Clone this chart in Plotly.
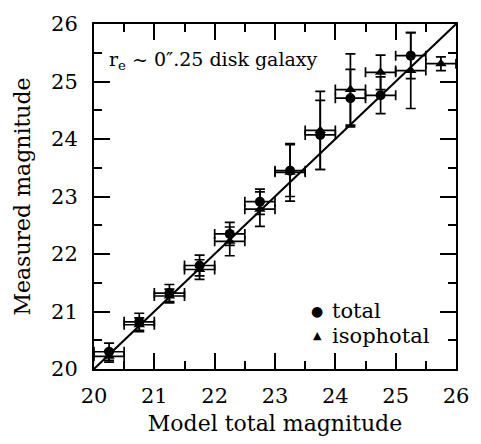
import plotly.graph_objects as go

# Data
model_total = [20.25, 20.75, 21.25, 21.75, 22.25, 22.75, 23.25, 23.75, 24.25, 24.75, 25.25]
meas_total = [20.30, 20.82, 21.32, 21.80, 22.35, 22.91, 23.45, 24.07, 24.71, 24.76, 25.45]
err_total = [0.15, 0.15, 0.15, 0.18, 0.20, 0.22, 0.45, 0.60, 0.50, 0.32, 0.40]

model_iso = [20.25, 20.75, 21.25, 21.75, 22.25, 22.75, 23.25, 23.75, 24.25, 24.75, 25.25, 25.75]
meas_iso = [20.22, 20.77, 21.27, 21.73, 22.22, 22.78, 23.42, 24.15, 24.86, 25.16, 25.19, 25.31]
err_iso = [0.10, 0.12, 0.12, 0.17, 0.25, 0.30, 0.50, 0.68, 0.62, 0.30, 0.66, 0.12]

bin_half_width = 0.25
axis_range = [20, 26]
tick_vals = [20, 21, 22, 23, 24, 25, 26]
tick_text = ["20", "21", "22", "23", "24", "25", "26"]
legend_labels = ["total", "isophotal"]

FONT = "DejaVu Serif"
BLACK = "#000000"

fig = go.Figure()

# one-to-one line
fig.add_trace(go.Scatter(x=axis_range, y=axis_range, mode="lines",
                         line=dict(color=BLACK, width=2), showlegend=False, hoverinfo="skip"))

err_style = dict(type="data", color=BLACK, thickness=1.7, width=5)

fig.add_trace(go.Scatter(
    x=model_total, y=meas_total, mode="markers", name=legend_labels[0], showlegend=False,
    marker=dict(symbol="circle", size=10, color=BLACK),
    error_y=dict(array=err_total, **err_style),
    error_x=dict(array=[bin_half_width] * len(model_total), **err_style),
))
fig.add_trace(go.Scatter(
    x=model_iso, y=meas_iso, mode="markers", name=legend_labels[1], showlegend=False,
    marker=dict(symbol="triangle-up", size=10, color=BLACK),
    error_y=dict(array=err_iso, **err_style),
    error_x=dict(array=[bin_half_width] * len(model_iso), **err_style),
))

# empty trace to activate the mirrored (top/right) axes carrying minor ticks
fig.add_trace(go.Scatter(x=[], y=[], xaxis="x2", yaxis="y2", showlegend=False, hoverinfo="skip"))

tick_common = dict(
    range=axis_range, tickmode="array", tickvals=tick_vals, ticktext=tick_text,
    ticks="inside", ticklen=16, tickwidth=1.5, tickcolor=BLACK,
    minor=dict(ticks="inside", ticklen=8, tickwidth=1.5, tickcolor=BLACK, dtick=0.5, tick0=20, showgrid=False),
    showgrid=False, zeroline=False,
)

fig.update_layout(
    xaxis=dict(**tick_common, showline=True, linewidth=2, linecolor=BLACK,
               tickfont=dict(family=FONT, size=21, color=BLACK), ticklabelstandoff=7,
               title=dict(text="Model total magnitude", font=dict(family=FONT, size=22, color=BLACK), standoff=8)),
    yaxis=dict(**tick_common, showline=True, linewidth=2, linecolor=BLACK,
               tickfont=dict(family=FONT, size=21, color=BLACK), ticklabelstandoff=10,
               title=dict(text="Measured magnitude", font=dict(family=FONT, size=22, color=BLACK), standoff=14)),
    xaxis2=dict(**tick_common, overlaying="x", side="top", anchor="y2", showticklabels=False,
                showline=True, linewidth=2, linecolor=BLACK),
    yaxis2=dict(**tick_common, overlaying="y", side="right", anchor="x2", showticklabels=False,
                showline=True, linewidth=2, linecolor=BLACK),
)

fig.add_annotation(
    text="r<sub>e</sub> ~ 0″.25 disk galaxy", xref="paper", yref="paper",
    x=0.035, y=0.895, xanchor="left", yanchor="middle", showarrow=False,
    font=dict(family=FONT, size=19, color=BLACK),
)

# legend drawn as annotations (symbol + label)
legend_symbols = ["●", "▲"]
legend_symbol_sizes = [14, 11]
legend_y = [0.168, 0.096]
for sym, ssize, lab, ly in zip(legend_symbols, legend_symbol_sizes, legend_labels, legend_y):
    fig.add_annotation(text=sym, xref="paper", yref="paper", x=0.617, y=ly,
                       xanchor="center", yanchor="middle", showarrow=False,
                       font=dict(family="DejaVu Sans", size=ssize, color=BLACK))
    fig.add_annotation(text=lab, xref="paper", yref="paper", x=0.652, y=ly,
                       xanchor="left", yanchor="middle", showarrow=False,
                       font=dict(family=FONT, size=21, color=BLACK))

fig.update_layout(
    width=481, height=444,
    margin=dict(l=94, r=24, t=15, b=66),
    paper_bgcolor="white", plot_bgcolor="white",
    showlegend=False,
)

fig.write_html("out.html")
